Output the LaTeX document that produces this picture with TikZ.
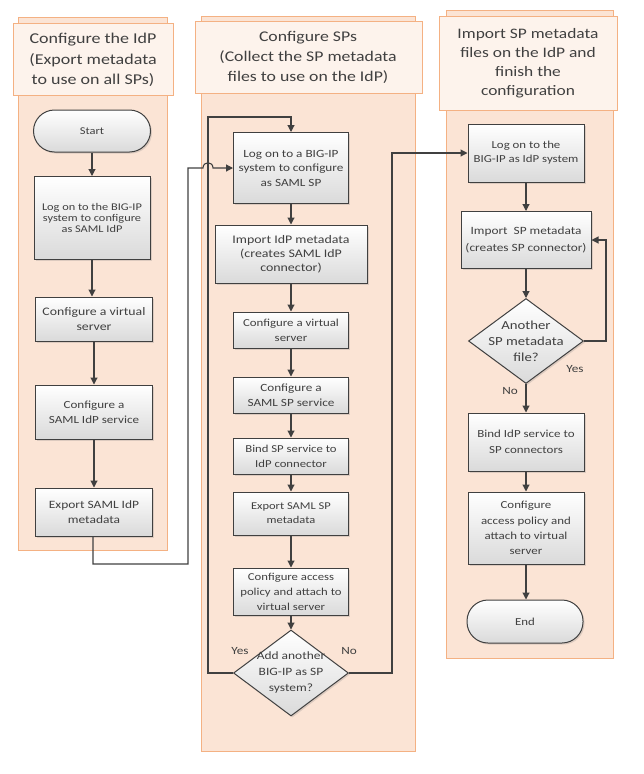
\documentclass[tikz,border=0pt]{standalone}
\usepackage{fontspec}
\setmainfont{Carlito}[FakeStretch=1.2]
\usetikzlibrary{shapes.geometric,arrows.meta,shadows}
\definecolor{lanefill}{HTML}{FBE4D5}
\definecolor{laneedge}{HTML}{F4B183}
\definecolor{headfill}{HTML}{FDF3EC}
\definecolor{ink}{HTML}{404040}
\definecolor{boxbot}{HTML}{DADADA}
\newcommand{\fs}[2]{\fontsize{#1}{#2}\selectfont}
\tikzset{
  proc/.style={draw=ink, line width=1pt, top color=white, bottom color=boxbot, align=center, text=ink,
    font=\fs{11}{15}, inner sep=2pt,
    drop shadow={shadow xshift=1.5pt, shadow yshift=-1.5pt, opacity=0.25}},
  term/.style={proc, rounded corners=21pt},
  dec/.style={proc, diamond, aspect=1.34, inner xsep=-12pt, inner ysep=-6pt},
  conn/.style={draw=ink, line width=1.1pt, -{Triangle[width=7pt,length=7pt]}},
  lane/.style={fill=lanefill, draw=laneedge, line width=0.6pt},
  head/.style={fill=headfill, draw=laneedge, line width=0.6pt},
  headtext/.style={align=center, text=ink, font=\fs{15}{20.5}},
  lbl/.style={text=ink, font=\fs{11}{13}},
}
\begin{document}
\begin{tikzpicture}[x=1pt,y=-1pt]
\useasboundingbox (0,0) rectangle (643,774);
% lanes
\draw[lane] (18,17) rectangle (167,550);
\draw[head] (13,23) rectangle (173,95);
\draw[lane] (201,16) rectangle (415,751);
\draw[head] (195,21) rectangle (422,93);
\draw[lane] (446,10) rectangle (613,658);
\draw[head] (439,16) rectangle (617,110);
\node[headtext] (h1) at (93,60) {Configure the IdP\\(Export metadata\\to use on all SPs)};
\node[headtext, font=\fs{14.8}{20}] (h2) at (308,57) {Configure SPs\\(Collect the SP metadata\\files to use on the IdP)};
\node[headtext, font=\fs{14.5}{19}] (h3) at (528,63) {Import SP metadata\\files on the IdP and\\finish the\\configuration};
% column 1
\node[term, minimum width=117pt, minimum height=42pt, font=\fs{10.4}{13}] (start) at (92,131) {Start};
\node[proc, minimum width=116pt, minimum height=83pt, font=\fs{10.3}{11}] (log1) at (92,218) {Log on to the BIG-IP\\system to configure\\as SAML IdP};
\node[proc, minimum width=117pt, minimum height=44pt, font=\fs{11.5}{14.7}] (vs1) at (94,319) {Configure a virtual\\server};
\node[proc, minimum width=117pt, minimum height=54pt, font=\fs{10.9}{15}] (saml1) at (94,412) {Configure a\\SAML IdP service};
\node[proc, minimum width=117pt, minimum height=48pt, font=\fs{11.2}{15}] (exp1) at (94,512) {Export SAML IdP\\metadata};
% column 2
\node[proc, minimum width=115pt, minimum height=71pt, font=\fs{11}{14.5}] (log2) at (291,168) {Log on to a BIG-IP\\system to configure\\as SAML SP};
\node[proc, minimum width=152pt, minimum height=58pt, font=\fs{11.6}{14}] (imp2) at (291,254) {Import IdP metadata\\(creates SAML IdP\\connector)};
\node[proc, minimum width=115pt, minimum height=36pt, font=\fs{10.7}{15}] (vs2) at (291,330) {Configure a virtual\\server};
\node[proc, minimum width=115pt, minimum height=36pt, font=\fs{11}{15}] (saml2) at (291,395) {Configure a\\SAML SP service};
\node[proc, minimum width=115pt, minimum height=36pt, font=\fs{10.6}{15}] (bind2) at (291,456) {Bind SP service to\\IdP connector};
\node[proc, minimum width=115pt, minimum height=43pt, font=\fs{10.4}{14}] (exp2) at (291,513.5) {Export SAML SP\\metadata};
\node[proc, minimum width=115pt, minimum height=47pt, font=\fs{10.6}{15}] (acc2) at (291,591.5) {Configure access\\policy and attach to\\virtual server};
\node[dec, minimum width=115pt, minimum height=86pt, font=\fs{11.2}{16}] (dia2) at (291,673) {Add another\\BIG-IP as SP\\system?};
% column 3
\node[proc, minimum width=116pt, minimum height=58pt, font=\fs{10.7}{14}] (log3) at (526,153) {Log on to the\\BIG-IP as IdP system};
\node[proc, minimum width=130pt, minimum height=57pt, font=\fs{11.1}{17}] (imp3) at (526,240) {Import~ SP metadata\\(creates SP connector)};
\node[dec, minimum width=115pt, minimum height=85pt, font=\fs{12.3}{16}] (dia3) at (526,341) {Another\\SP metadata\\file?};
\node[proc, minimum width=116pt, minimum height=58pt, font=\fs{10.8}{16}] (bind3) at (526,442) {Bind IdP service to\\SP connectors};
\node[proc, minimum width=116pt, minimum height=72pt, font=\fs{10.75}{15.3}] (acc3) at (526,528) {Configure\\access policy and\\attach to virtual\\server};
\node[term, minimum width=116pt, minimum height=43pt, font=\fs{10.7}{13}] (end) at (525,621.5) {End};
% connectors column 1
\draw[conn] (start) -- (log1);
\draw[conn] (log1) -- (vs1.north -| log1);
\draw[conn] (vs1) -- (saml1);
\draw[conn] (saml1) -- (exp1);
\coordinate (c1a) at (93,564);
\coordinate (c1b) at (188,564);
\coordinate (c1c) at (188,168);
\coordinate (hop1) at (203,168);
\coordinate (hop2) at (213,168);
\draw[conn] (exp1.south -| c1a) -- (c1a) -- (c1b) -- (c1c) -- (hop1) .. controls +(0,-7) and +(0,-7) .. (hop2) -- (log2.west);
% connectors column 2
\draw[conn] (log2) -- (imp2);
\draw[conn] (imp2) -- (vs2);
\draw[conn] (vs2) -- (saml2);
\draw[conn] (saml2) -- (bind2);
\draw[conn] (bind2) -- (exp2);
\draw[conn] (exp2) -- (acc2);
\draw[conn] (acc2) -- (dia2);
\coordinate (y2a) at (208,673);
\coordinate (y2b) at (208,117);
\coordinate (y2c) at (291,117);
\draw[conn] (dia2.west) -- (y2a) -- (y2b) -- (y2c) -- (log2.north);
\coordinate (n2a) at (392,673);
\coordinate (n2b) at (392,153);
\draw[conn] (dia2.east) -- (n2a) -- (n2b) -- (log3.west);
\node[lbl] (yes2) at (240,651) {Yes};
\node[lbl] (no2) at (349,651) {No};
% connectors column 3
\draw[conn] (log3) -- (imp3);
\draw[conn] (imp3) -- (dia3);
\draw[conn] (dia3) -- (bind3);
\draw[conn] (bind3) -- (acc3);
\draw[conn] (acc3) -- (acc3 |- end.north);
\coordinate (y3a) at (606,341);
\coordinate (y3b) at (606,240);
\draw[conn] (dia3.east) -- (y3a) -- (y3b) -- (imp3.east);
\node[lbl] (yes3) at (575,369) {Yes};
\node[lbl] (no3) at (510,391) {No};
\end{tikzpicture}
\end{document}
